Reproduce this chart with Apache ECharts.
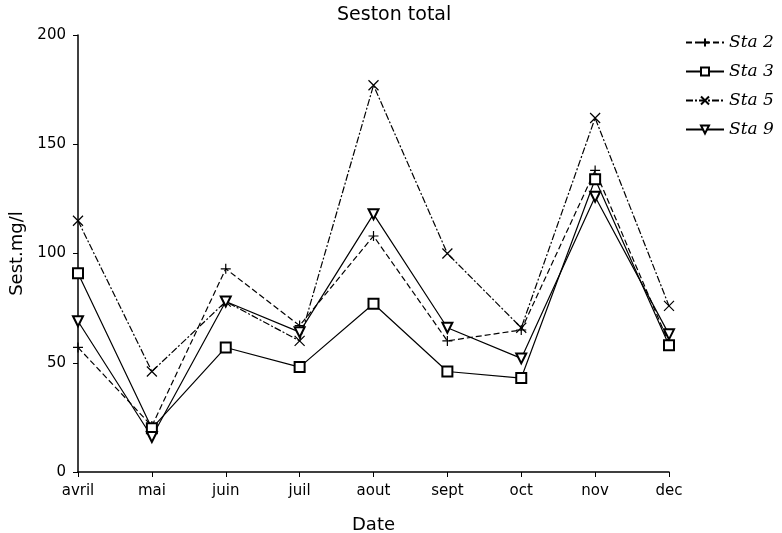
<!DOCTYPE html>
<html>
<head>
<meta charset="utf-8">
<script src="https://cdn.jsdelivr.net/npm/echarts@6/dist/echarts.min.js"></script>
<style>
  html, body { margin: 0; padding: 0; background: #fff; }
  #seston { width: 782px; height: 533px; }
</style>
</head>
<body>
<div id="seston"></div>
<script>
// months on the x axis
var months = ['avril', 'mai', 'juin', 'juil', 'aout', 'sept', 'oct', 'nov', 'dec'];

// seston values, mg/l
var sta2 = [57, 21, 93, 67, 108, 60, 65, 138, 59];
var sta3 = [91, 20, 57, 48, 77, 46, 43, 134, 58];
var sta5 = [115, 46, 78, 60, 177, 100, 66, 162, 76];
var sta9 = [69, 16, 78, 64, 118, 66, 52, 126, 63];

var yTicks = [0, 50, 100, 150, 200];

var plusPath = 'path://M0,5L10,5M5,0L5,10';
var crossPath = 'path://M0,0L10,10M10,0L0,10';

var chart = echarts.init(document.getElementById('seston'));

function serie(name, data, symbol, dash, rotate) {
    return {
        name: name,
        type: 'line',
        data: data,
        symbol: symbol,
        symbolSize: 10,
        symbolRotate: rotate || 0,
        showAllSymbol: true,
        lineStyle: { color: '#000', width: 1.2, type: dash },
        itemStyle: { color: '#000', borderColor: '#000', borderWidth: 1.2 },
        emphasis: { disabled: true }
    };
}

var option = {
    backgroundColor: '#fff',
    animation: false,
    title: {
        text: 'Seston total',
        left: 332,
        top: 1,
        textStyle: { fontFamily: 'DejaVu Sans', fontSize: 19, fontWeight: 'normal', color: '#000' }
    },
    legend: {
        orient: 'vertical',
        left: 680,
        top: 29,
        itemWidth: 38,
        itemHeight: 10,
        itemGap: 12,
        textStyle: { fontFamily: 'DejaVu Serif', fontStyle: 'italic', fontSize: 17, color: '#000' },
        data: ['Sta 2', 'Sta 3', 'Sta 5', 'Sta 9']
    },
    grid: { left: 78, right: 113, top: 35, bottom: 61, outerBoundsMode: 'none' },
    xAxis: {
        type: 'category',
        data: months,
        boundaryGap: false,
        name: 'Date',
        nameLocation: 'middle',
        nameGap: 44,
        nameTextStyle: { fontFamily: 'DejaVu Sans', fontSize: 18, color: '#000' },
        axisLine: { lineStyle: { color: '#000', width: 1.5 } },
        axisTick: { lineStyle: { color: '#000' }, length: 5 },
        axisLabel: { fontFamily: 'DejaVu Sans', fontSize: 15, color: '#000', margin: 12 },
        splitLine: { show: false }
    },
    yAxis: {
        type: 'value',
        min: yTicks[0],
        max: yTicks[yTicks.length - 1],
        interval: 50,
        name: 'Sest.mg/l',
        nameLocation: 'middle',
        nameRotate: 90,
        nameGap: 40,
        nameTextStyle: { fontFamily: 'DejaVu Sans', fontSize: 18, color: '#000' },
        axisLine: { show: true, lineStyle: { color: '#000', width: 1.5 } },
        axisTick: { show: true, lineStyle: { color: '#000' }, length: 5 },
        axisLabel: { fontFamily: 'DejaVu Sans', fontSize: 15, color: '#000', margin: 12 },
        splitLine: { show: false }
    },
    series: [
        serie('Sta 2', sta2, plusPath, [6, 3]),
        serie('Sta 3', sta3, 'emptyRect', 'solid'),
        serie('Sta 5', sta5, crossPath, [7, 2, 2, 2]),
        serie('Sta 9', sta9, 'emptyTriangle', 'solid', 180)
    ]
};

chart.setOption(option);
</script>
</body>
</html>
